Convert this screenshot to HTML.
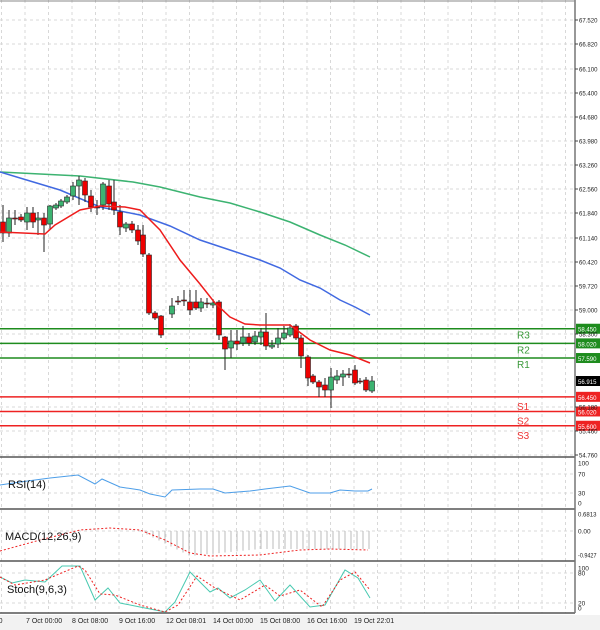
<!DOCTYPE html>
<html><head><meta charset="utf-8"><style>
html,body{margin:0;padding:0;background:#fff;width:600px;height:630px;overflow:hidden}
svg{display:block;font-family:"Liberation Sans",sans-serif}
</style></head><body>
<svg id="s" width="600" height="630" xmlns="http://www.w3.org/2000/svg">
<rect width="600" height="630" fill="#fff"/>
<rect x="0" y="615" width="600" height="15" fill="#f2f2f2"/>
<g id="grid" stroke="#d8d8d8" stroke-dasharray="3,3" stroke-width="1"></g>
<g id="plot"></g>
<g id="axis" font-size="7" fill="#222"></g>
</svg>
<script>
const NS="http://www.w3.org/2000/svg";
function el(p,t,a,txt){const e=document.createElementNS(NS,t);for(const k in a)e.setAttribute(k,a[k]);if(txt!==undefined)e.textContent=txt;p.appendChild(e);return e;}
const g=document.getElementById('grid'),P=document.getElementById('plot'),A=document.getElementById('axis');
const Y=p=>20+(67.52-p)*34.04;
function lab(p,x,y,t,extra){const a=Object.assign({x:x,y:y,'font-size':6.5},extra||{});if(t.length>=5){a.textLength=(t.length>=6?18.5:15);a.lengthAdjust='spacingAndGlyphs';}return el(p,'text',a,t);}
for(let x=1.5;x<575;x+=23.5){el(g,'line',{x1:x,y1:0,x2:x,y2:613});}
const ticks=[["67.520",20],["66.820",44],["66.100",69],["65.400",93],["64.680",117],["63.980",141],["63.260",165],["62.560",189],["61.840",213],["61.140",238],["60.420",262],["59.720",286],["59.000",310],["58.300",334],["56.180",407],["55.460",431],["54.760",455]];
ticks.forEach(t=>{el(g,'line',{x1:0,y1:t[1],x2:575,y2:t[1]});el(A,'line',{x1:575,y1:t[1],x2:578,y2:t[1],stroke:'#444'});lab(A,579,t[1]+2.5,t[0]);});
[474,493,573,603,531].forEach(y=>el(g,'line',{x1:0,y1:y,x2:575,y2:y}));
[["100",463],["70",474],["30",493],["0",503],["0.6813",514],["0.00",531],["-0.9427",555],["100",568],["80",573],["20",603],["0",608]].forEach(t=>lab(A,578,t[1]+2.5,t[0]));
[457,509,561,613].forEach(y=>el(P,'line',{x1:0,y1:y,x2:575,y2:y,stroke:'#555','stroke-width':1.5}));
el(P,'line',{x1:575,y1:0,x2:575,y2:613,stroke:'#777','stroke-width':1.5});
el(P,'line',{x1:0,y1:1,x2:575,y2:1,stroke:'#888'});
[["20:00",-15],["7 Oct 00:00",26],["8 Oct 08:00",72],["9 Oct 16:00",119],["12 Oct 08:01",166],["14 Oct 00:00",213],["15 Oct 08:00",260],["16 Oct 16:00",307],["19 Oct 22:01",354]].forEach(t=>el(A,'text',{x:t[1],y:623},t[0]));
const lv=[["58.450","R3","#1e8c1e"],["58.020","R2","#1e8c1e"],["57.590","R1","#1e8c1e"],["56.450","S1","#ee2222"],["56.020","S2","#ee2222"],["55.600","S3","#ee2222"]];
lv.forEach((l,i)=>{const y=Y(+l[0]);el(P,'line',{x1:0,y1:y,x2:575,y2:y,stroke:l[2],'stroke-width':1.5});
el(P,'rect',{x:576,y:y-5,width:24,height:10,fill:l[2]});lab(P,578,y+3,l[0],{fill:'#fff'});
el(P,'text',{x:517,y:y+(i<3?10:13),'font-size':10,fill:i<3?'#3a9a3a':'#ee3333'},l[1]);});
el(P,'rect',{x:576,y:376,width:24,height:10,fill:'#000'});lab(P,578,384,"56.915",{fill:'#fff'});
const C=[[3,222,233,205,242],[9,233,218,210,237],[15,218,218.5,210,225],[21,217,220,214,222],[27,222,213,207,230],[33,213,222,207,228],[38,220,218,212,235],[44,218,225,213,252],[50,224,206,205,230],[56,208,205,203,210],[61,206,201,199,208],[67,202,197,195,204],[73,196,186,182,200],[79,186,180,176,205],[85,181,195,178,202],[91,196,207,190,212],[97,207,207.5,200,215],[103,205,184,182,210],[109,186,204,180,210],[114,202,210,180,215],[120,212,227,205,235],[126,228,224,222,232],[132,224,230,221,233],[138,230,241,225,245],[143,235,254,225,257],[149,255,313,253,315],[155,313,318,311,320],[161,316,335,315,338],[172,314,306,298,318],[178,301,301.5,296,305],[184,300,300.5,290,306],[190,302,310,290,315],[196,302,308,290,310],[201,308,302,298,312],[207,303,303.5,298,308],[213,305,303,299,308],[219,302,335,300,340],[225,337,349,336,370],[231,348,341,330,358],[237,341,344,330,350],[243,343,337,326,346],[249,337,343,333,346],[255,342,336,331,345],[261,337,332,328,345],[266,332,346,313,350],[272,347,345,340,349],[278,344,338,328,348],[284,338,333,326,340],[290,335,328,324,337],[296,326,338,324,340],[301,338,356,335,368],[308,357,378,355,386],[313,376,382,374,384],[319,382,387,380,397],[325,385,390,378,397],[331,390,377,368,408],[337,380,376,370,384],[343,377,374,370,386],[349,374,374.5,368,378],[355,370,383,365,385],[360,381,381.5,378,384],[366,380,390,377,392],[372,391,381,376,393]];
function poly(pts,col,w,dash){el(P,'polyline',{points:pts.map(p=>p.join(',')).join(' '),fill:'none',stroke:col,'stroke-width':w||1,'stroke-dasharray':dash||'none'});}
poly([[0,172],[40,174],[80,176],[133,182],[160,187],[200,197],[230,203],[260,212],[290,222],[320,235],[345,245],[370,257]],'#3cb371',1.5);
poly([[0,172],[30,181],[60,190],[100,207],[140,215],[170,226],[200,240],[230,250],[260,260],[280,268],[300,280],[320,288],[340,300],[355,307],[370,315]],'#4169e1',1.5);
C.forEach(c=>{const[x,o,cl,h,l]=c;el(P,'line',{x1:x,y1:h,x2:x,y2:l,stroke:'#222'});const top=Math.min(o,cl),ht=Math.max(1,Math.abs(o-cl));
el(P,'rect',{x:x-2.5,y:top,width:5,height:ht,fill:cl<o?'#3cb371':'#e00',stroke:'#222','stroke-width':0.6});});
poly([[0,232],[45,234],[55,225],[80,210],[100,206],[125,207],[140,210],[160,230],[180,260],[200,284],[215,303],[230,317],[245,324],[260,325],[290,325],[310,340],[330,350],[350,355],[370,363]],'#ee1c1c',1.5);
poly([[0,485],[20,482],[50,478],[78,475],[95,484],[102,479],[120,487],[140,490],[150,494],[165,497],[172,490],[200,489],[213,489],[225,493],[250,491],[265,489],[290,486],[310,493],[330,493],[340,490],[355,491],[368,491],[372,489]],'#4d9ee8',1);
el(P,'text',{x:8,y:488,'font-size':11,fill:'#111'},"RSI(14)");
for(let x=3;x<=372;x+=6){let v;if(x<140)v=-(x<120?0:(x-120)*0.1);else if(x<190)v=(x-140)*0.5;else v=Math.max(18,25-(x-190)*0.1);el(P,'line',{x1:x,y1:531,x2:x,y2:531+Math.max(0,v),stroke:'#bbb'});}
poly([[0,551],[40,540],[80,530],[110,528],[140,530],[165,540],[190,553],[210,556],[260,555],[300,550],[330,549],[368,550]],'#ee2222',1,'2,2');
el(P,'text',{x:5,y:540,'font-size':11,fill:'#111'},"MACD(12,26,9)");
poly([[0,577],[12,583],[25,580],[45,582],[62,566],[80,566],[95,600],[108,588],[120,603],[140,607],[165,612],[175,602],[190,572],[210,592],[218,588],[230,598],[245,590],[260,580],[275,601],[290,585],[310,607],[325,605],[345,570],[358,578],[370,598]],'#48c9b0',1);
poly([[0,577],[15,585],[45,580],[78,566],[85,570],[100,594],[115,595],[140,605],[165,612],[178,605],[197,576],[215,588],[240,600],[265,585],[280,596],[300,590],[322,607],[340,580],[355,572],[370,590]],'#ee2222',1,'2,2');
el(P,'text',{x:7,y:593,'font-size':11,fill:'#111'},"Stoch(9,6,3)");
el(P,'rect',{x:166,y:348,width:2,height:1,fill:'#6f6'});
</script>
</body></html>
